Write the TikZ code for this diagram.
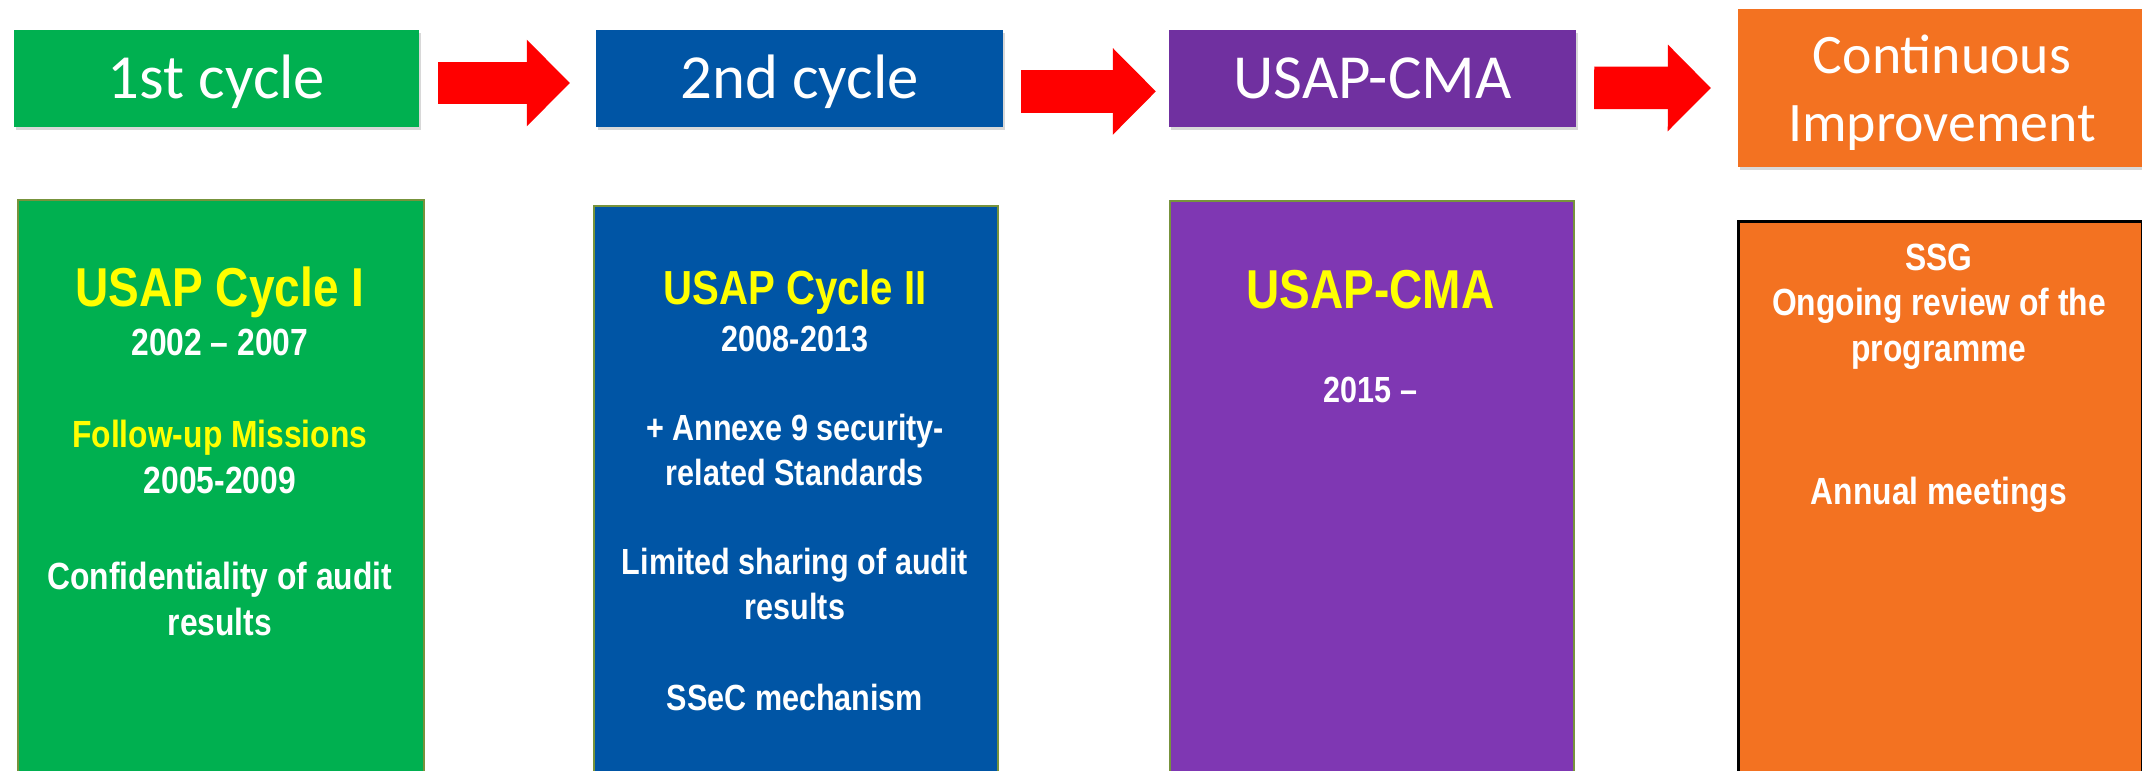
\documentclass[tikz,border=0pt]{standalone}
\usepackage{fontspec}
\usepackage{tikz}
\usetikzlibrary{positioning,arrows.meta,shadows}
\newfontfamily\headfont{Carlito}
\newfontfamily\narrowbf{Liberation Sans Bold}[FakeStretch=0.84]
\definecolor{cgreen}{HTML}{00B050}
\definecolor{cblue}{HTML}{0055A5}
\definecolor{cpurple}{HTML}{7030A0}
\definecolor{cpurplebox}{HTML}{7F37B3}
\definecolor{corange}{HTML}{F37221}
\definecolor{colive}{HTML}{77933C}
\definecolor{cyellow}{HTML}{FFFF00}
\tikzset{
	header/.style={fill=#1, text=white, inner sep=0pt, minimum width=406bp, minimum height=97bp,
		text height=41bp, text depth=0pt, font=\headfont\fontsize{63}{68}\selectfont,
		drop shadow={shadow xshift=2bp, shadow yshift=-3bp, opacity=.3}},
	panel/.style={fill=#1, draw=colive, line width=2bp, anchor=north west, inner sep=0pt},
	title/.style={text=cyellow, anchor=base, inner sep=0pt, font=\narrowbf\fontsize{#1}{#1}\selectfont},
	body/.style={text=white, anchor=base, align=center, inner sep=0pt, font=\narrowbf\fontsize{#1}{45.5}\selectfont},
	bigarrow/.style={draw=red, line width=42.6bp, -{Triangle[width=86.7bp,length=43bp,line width=0pt]}}
}
\begin{document}
\begin{tikzpicture}[x=1bp,y=-1bp]
		\useasboundingbox (0,0) rectangle (2142,771);
		\fill[white] (0,0) rectangle (2142,771);
		
		% the four panels
		\node(B1) [panel=cgreen, minimum width=405.6bp, minimum height=572bp] at (17,199) {};
		\node(B2) [panel=cblue, minimum width=404bp, minimum height=566bp] at (593,205) {};
		\node(B3) [panel=cpurplebox, minimum width=404bp, minimum height=571bp] at (1168.5,200) {};
		\node(B4) [panel=corange, draw=black, line width=3bp, minimum width=404bp, minimum height=551bp] at (1737,220) {};
		
		% headers
		\node(H1) [header=cgreen, minimum width=405bp] at (216.5,78.5) {1st cycle};
		\node(H2) [header=cblue, minimum width=407bp] at (799.5,78.5) {2nd cycle};
		\node(H3) [header=cpurple, minimum width=407bp] at (1372.5,78.5) {USAP-CMA};
		\node(H4) [header=corange, minimum width=408bp, minimum height=158bp, align=center,
			font=\headfont\fontsize{56}{68.4}\selectfont, text height=107.4bp, text depth=0pt]
			at (1942,88) {Continuous\\Improvement};
		
		\draw[bigarrow] ([xshift=19bp,yshift=-4.5bp]H1.east) -- ([xshift=-26bp,yshift=-4.5bp]H2.west);
		\draw[bigarrow] ([xshift=18bp,yshift=-12.9bp]H2.east) -- ([xshift=-13bp,yshift=-12.9bp]H3.west);
		\draw[bigarrow] ([xshift=18bp,yshift=-9.3bp]H3.east) -- ([xshift=-27bp]H4.west);
		
		% first cycle
		\node(T1) [title=55] at (219.8,306) {USAP Cycle I};
		\node(D1) [body=38] at (219.8,355.5) {2002 – 2007};
		\node(F1) [body=38] at (219.8,493) {\textcolor{cyellow}{Follow-up Missions}\\2005-2009};
		\node(C1) [body=38] at (219.8,635) {Confidentiality of audit\\results};
		
		% second cycle
		\node(T2) [title=48] at (795,304.5) {USAP Cycle II};
		\node(D2) [body=36.5] at (795,351.7) {2008-2013};
		\node(A2) [body=36.5] at (795,485.7) {+ Annexe 9 security-\\related Standards};
		\node(L2) [body=36.5] at (795,619.6) {Limited sharing of audit\\results};
		\node(S2) [body=36.5] at (795,710) {SSeC mechanism};
		
		% CMA
		\node(T3) [title=55] at (1370.5,308) {USAP-CMA};
		\node(D3) [body=36.5] at (1370.5,402.6) {2015 –};
		
		% continuous improvement
		\node(G4) [body=38] at (1939,361) {SSG\\Ongoing review of the\\programme};
		\node(M4) [body=38] at (1939,504.5) {Annual meetings};
	\end{tikzpicture}
\end{document}
